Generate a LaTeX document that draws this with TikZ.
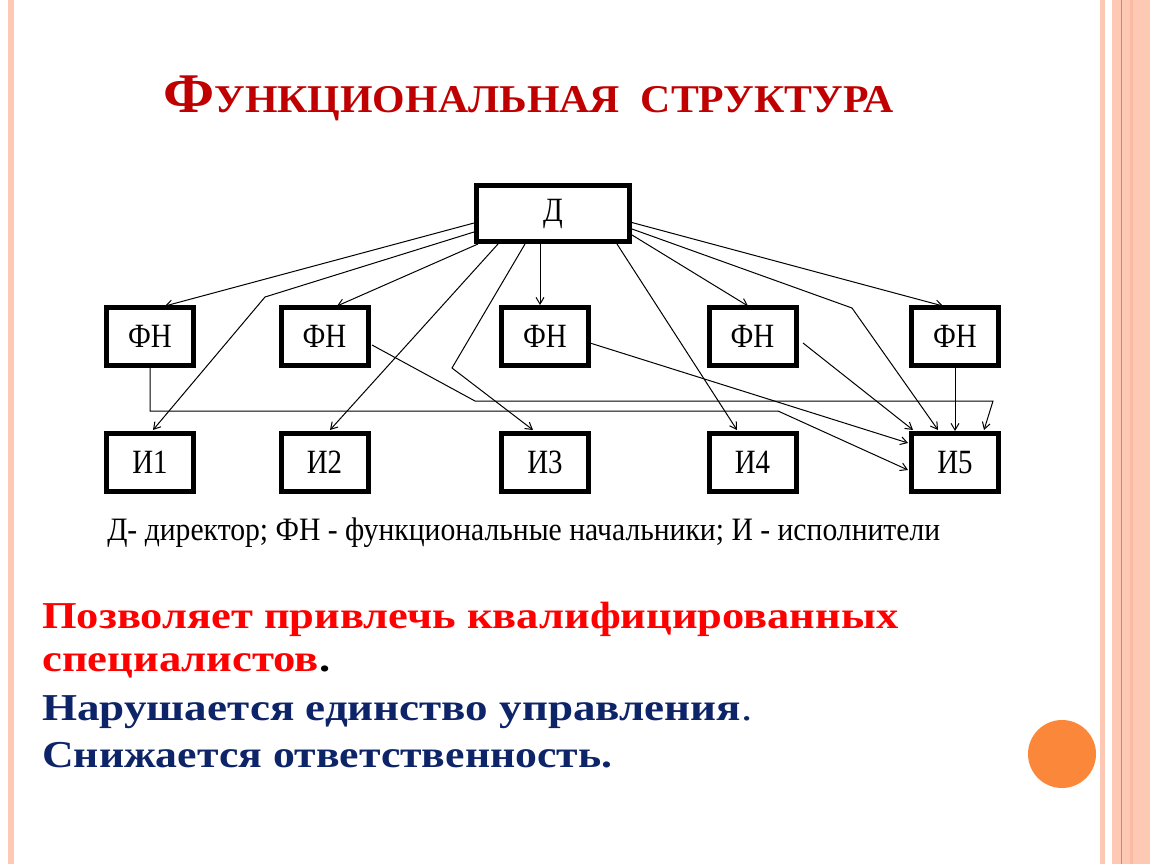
\documentclass[tikz,border=0pt]{standalone}
\usepackage{fontspec}
\usepackage{graphicx}
\setmainfont{Liberation Serif}
\newfontfamily\condfont[FakeStretch=0.85]{Liberation Serif}
\usetikzlibrary{arrows.meta,calc}
\definecolor{peach}{RGB}{253,201,180}
\definecolor{peachdark}{RGB}{249,187,162}
\definecolor{stripeline}{RGB}{238,128,70}
\definecolor{titlered}{RGB}{192,0,0}
\definecolor{brightred}{RGB}{255,0,0}
\definecolor{navy}{RGB}{14,36,104}
\definecolor{orangedot}{RGB}{251,136,58}
\tikzset{
  box/.style={draw=black, line width=3.75pt, fill=white, inner sep=0pt,
    minimum width=65.25pt, minimum height=43.5pt,
    font=\condfont\fontsize{25.5pt}{27pt}\selectfont},
  bigbox/.style={box, minimum width=114.75pt, minimum height=42pt},
  conn/.style={draw=black, line width=0.75pt, -{Straight Barb[length=5pt,width=6pt]}},
  plain/.style={draw=black, line width=0.75pt}
}
\begin{document}
\begin{tikzpicture}[x=0.75pt,y=-0.75pt]
\useasboundingbox (0,0) rectangle (1150,864);
\fill[white] (0,0) rectangle (1150,864);
% side stripes
\fill[peach] (8,0) rectangle (14,864);
\fill[peach] (1100,0) rectangle (1105,864);
\fill[peach] (1112,0) rectangle (1150,864);
\fill[peachdark] (1130,0) rectangle (1133,864);
\fill[stripeline] (1120.5,0) rectangle (1121.8,864);
% orange dot
\fill[orangedot] (1062,754) circle[radius=34];

% title
\node[anchor=base west, inner sep=0pt, text=titlered, font=\bfseries] (title) at (163,112)
  {\resizebox{547.5pt}{\height}{{\fontsize{42pt}{44pt}\selectfont Ф}{\fontsize{29.5pt}{31pt}\selectfont УНКЦИОНАЛЬНАЯ\ \ СТРУКТУРА}}};

% boxes
\node[bigbox] (d) at (553,213.5) {Д};
\node[box] (f1) at (150,336.5) {ФН};
\node[box] (f2) at (324.5,336.5) {ФН};
\node[box] (f3) at (545,336.5) {ФН};
\node[box] (f4) at (752.5,336.5) {ФН};
\node[box] (f5) at (955,336.5) {ФН};
\node[box] (i1) at (150,462.5) {И1};
\node[box] (i2) at (324.5,462.5) {И2};
\node[box] (i3) at (545,462.5) {И3};
\node[box] (i4) at (752.5,462.5) {И4};
\node[box] (i5) at (955,462.5) {И5};

% bend points
\coordinate (b1) at (265,297);
\coordinate (b2) at (452,368);
\coordinate (b3) at (852,308);
\coordinate (b4) at (150,411);
\coordinate (b5) at (778,411);
\coordinate (b6) at (475,401);
\coordinate (b7) at (993,401);

% director connectors
\draw[conn] ($(d)+(-79,9.5)$) -- ($(f1)+(15,-30.5)$);
\draw[conn] ($(d)+(-79,18.5)$) -- (b1) -- ($(i1)+(3,-32.5)$);
\draw[conn] ($(d)+(-75,30.5)$) -- ($(f2)+(12.5,-30.5)$);
\draw[conn] ($(d)+(-55,30.5)$) -- ($(i2)+(5.5,-32.5)$);
\draw[conn] ($(d)+(-28,30.5)$) -- (b2) -- ($(i3)+(-12,-32.5)$);
\draw[conn] ($(d)+(-13,30.5)$) -- ($(f3)+(-5,-31.5)$);
\draw[conn] ($(d)+(64,30.5)$) -- ($(i4)+(-15.5,-32.5)$);
\draw[conn] ($(d)+(77,8.5)$) -- ($(f5)+(-12,-30.5)$);
\draw[conn] ($(d)+(79,15.5)$) -- (b3) -- ($(i5)+(-17,-32.5)$);
\draw[conn] ($(d)+(79,21.5)$) -- ($(f4)+(-4.5,-30.5)$);

% functional heads connectors
\draw[conn] ($(f1)+(0,31.5)$) -- (b4) -- (b5) -- ($(i5)+(-47,7.5)$);
\draw[conn] ($(f2)+(47.5,8.5)$) -- (b6) -- (b7) -- ($(i5)+(29,-32.5)$);
\draw[conn] ($(f3)+(45,6.5)$) -- ($(i5)+(-47,-19.5)$);
\draw[conn] ($(f4)+(50.5,6.5)$) -- ($(i5)+(-42,-32.5)$);
\draw[conn] (f5.south) -- (i5.north);

% caption
\node[anchor=base west, inner sep=0pt] (cap) at (107,540)
  {\resizebox{624.75pt}{\height}{\condfont\fontsize{24.5pt}{26pt}\selectfont Д- директор; ФН - функциональные начальники; И - исполнители}};

% bottom text
\node[anchor=base west, inner sep=0pt, text=brightred] (l1) at (42,628)
  {\resizebox{642pt}{\height}{\bfseries\fontsize{28.5pt}{30pt}\selectfont Позволяет привлечь квалифицированных}};
\node[anchor=base west, inner sep=0pt, text=brightred] (l2) at (42,671)
  {\resizebox{216pt}{\height}{\bfseries\fontsize{28.5pt}{30pt}\selectfont специалистов\textcolor{black}{.}}};
\node[anchor=base west, inner sep=0pt, text=navy] (l3) at (42,720)
  {\resizebox{532.5pt}{\height}{\bfseries\fontsize{28.5pt}{30pt}\selectfont Нарушается единство управления{\mdseries .}}};
\node[anchor=base west, inner sep=0pt, text=navy] (l4) at (42,767)
  {\resizebox{427.5pt}{\height}{\bfseries\fontsize{28.5pt}{30pt}\selectfont Снижается ответственность.}};
\end{tikzpicture}
\end{document}
